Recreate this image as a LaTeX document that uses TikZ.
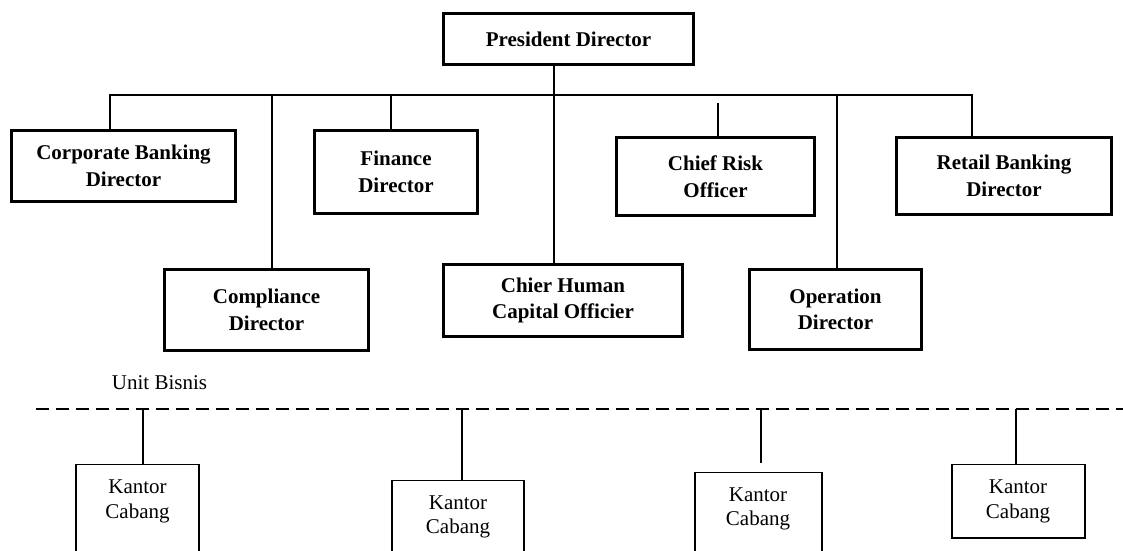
\documentclass[tikz,border=0pt]{standalone}
\usepackage{fontspec}
\setmainfont{Liberation Serif}
\begin{document}
\begin{tikzpicture}[x=1pt,y=-1pt,
  bigbox/.style={draw, line width=3.2pt, align=center, font=\fontsize{21}{26.5}\selectfont\bfseries, inner sep=0pt},
  kbox/.style={draw, line width=1.6pt, inner sep=0pt},
  ktext/.style={align=center, font=\fontsize{21}{24.5}\selectfont, inner sep=0pt},
  conn/.style={line width=1.8pt},
  dashline/.style={line width=1.8pt, dash pattern=on 13pt off 7pt}
]
\useasboundingbox (0,0) rectangle (1123,550);
\clip (0,0) rectangle (1123,550);

% top management
\node[bigbox, minimum width=250, minimum height=51] (pres) at (568.5,39) {President Director};
\node[bigbox, minimum width=224, minimum height=71] (corp) at (123.5,166) {Corporate Banking\\Director};
\node[bigbox, minimum width=163, minimum height=83] (fin) at (396,172) {Finance\\Director};
\node[bigbox, minimum width=204, minimum height=81] (comp) at (266.5,310) {Compliance\\Director};
\node[bigbox, minimum width=239, minimum height=72] (chier) at (563,300.5) {Chier Human\\Capital Officier};
\node[bigbox, minimum width=198, minimum height=78] (risk) at (715.5,176.5) {Chief Risk\\Officer};
\node[bigbox, minimum width=172, minimum height=80] (oper) at (835.5,309.5) {Operation\\Director};
\node[bigbox, minimum width=215, minimum height=77] (retail) at (1004,176) {Retail Banking\\Director};

% bus and drops
\coordinate (busL) at (110,95);
\coordinate (busR) at (972,95);
\coordinate (jcomp) at (272,95);
\coordinate (jfin) at (391,95);
\coordinate (jpres) at (554,95);
\coordinate (jrisk) at (718,103);
\coordinate (joper) at (837,95);
\draw[conn] (busL |- corp.north) -- (busL) -- (busR) -- (busR |- retail.north);
\draw[conn] (jcomp) -- (jcomp |- comp.north);
\draw[conn] (jfin) -- (jfin |- fin.north);
\draw[conn] (jpres |- pres.south) -- (jpres |- chier.north);
\draw[conn] (jrisk) -- (jrisk |- risk.north);
\draw[conn] (joper) -- (joper |- oper.north);

% business units
\node[ktext] (unit) at (159.5,382.5) {Unit Bisnis};
\coordinate (dL) at (36,409);
\coordinate (dR) at (1123,409);
\draw[dashline] (dL) -- (dR);

\node[kbox, anchor=north, minimum width=123.4, minimum height=150] (kc1) at (137.5,463.8) {};
\node[kbox, anchor=north, minimum width=132.4, minimum height=150] (kc2) at (458,479.8) {};
\node[kbox, anchor=north, minimum width=127.4, minimum height=150] (kc3) at (758.5,471.8) {};
\node[kbox, anchor=north, minimum width=133.4, minimum height=73.4] (kc4) at (1018.5,463.8) {};
\node[ktext] (kt1) at (137.5,501.5) {Kantor\\Cabang};
\node[ktext] (kt2) at (458,517) {Kantor\\Cabang};
\node[ktext] (kt3) at (758,509) {Kantor\\Cabang};
\node[ktext] (kt4) at (1018,501.5) {Kantor\\Cabang};

\coordinate (jk1) at (143,409);
\coordinate (jk2) at (462,409);
\coordinate (jk3) at (761,409);
\coordinate (ek3) at (761,463);
\coordinate (jk4) at (1016,409);
\draw[conn] (jk1) -- (jk1 |- kc1.north);
\draw[conn] (jk2) -- (jk2 |- kc2.north);
\draw[conn] (jk3) -- (ek3);
\draw[conn] (jk4) -- (jk4 |- kc4.north);
\end{tikzpicture}
\end{document}
